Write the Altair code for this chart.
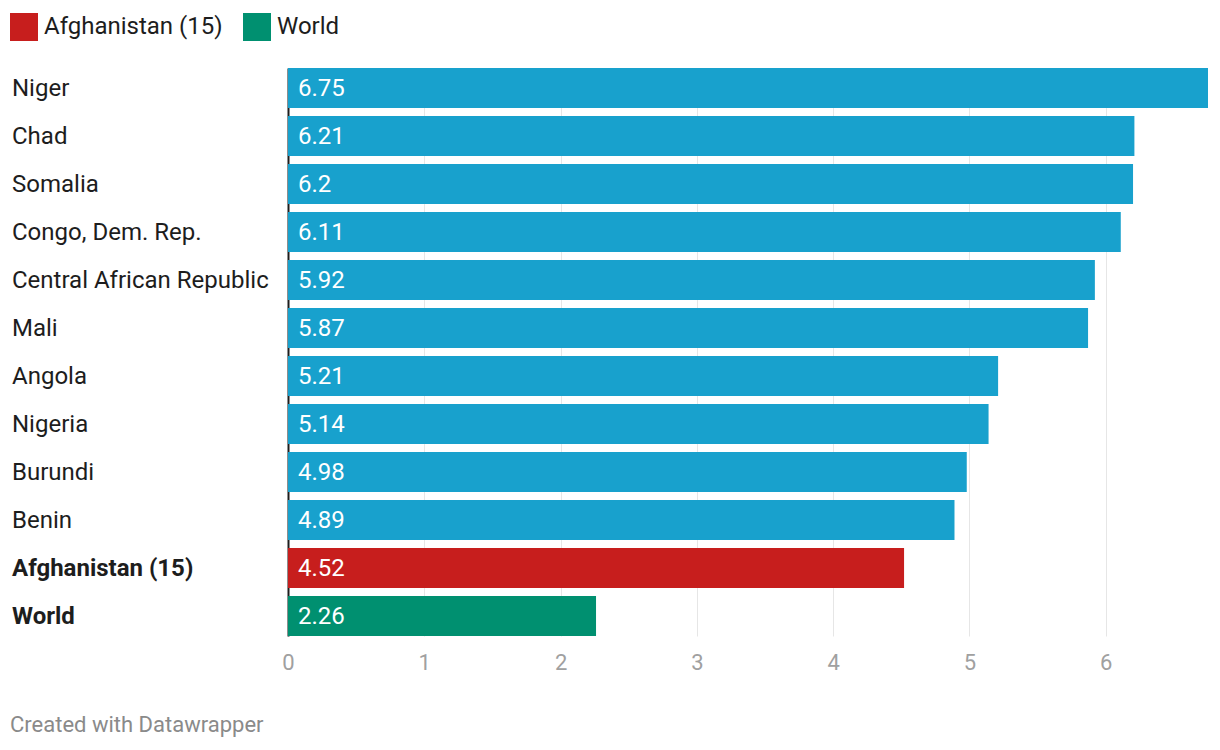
import altair as alt
import pandas as pd

countries = ["Niger", "Chad", "Somalia", "Congo, Dem. Rep.", "Central African Republic",
             "Mali", "Angola", "Nigeria", "Burundi", "Benin", "Afghanistan (15)", "World"]
values = [6.75, 6.21, 6.2, 6.11, 5.92, 5.87, 5.21, 5.14, 4.98, 4.89, 4.52, 2.26]
groups = ["Other"] * 10 + ["Afghanistan (15)", "World"]
bold = [False] * 10 + [True, True]
labels = ["6.75", "6.21", "6.2", "6.11", "5.92", "5.87", "5.21", "5.14", "4.98", "4.89", "4.52", "2.26"]

df = pd.DataFrame({"country": countries, "value": values, "group": groups,
                   "bold": bold, "label": labels})

FONT = "Roboto"

y_enc = alt.Y("country:N", sort=countries,
              scale=alt.Scale(paddingInner=1/6, paddingOuter=0),
              axis=alt.Axis(title=None, labels=False, ticks=False, grid=False,
                            domain=True, domainColor="#1d1d1d", domainWidth=2))

bars = alt.Chart(df).mark_bar().encode(
    y=y_enc,
    x=alt.X("value:Q", scale=alt.Scale(domain=[0, 6.75], nice=False, zero=True),
            axis=alt.Axis(title=None, values=[0, 1, 2, 3, 4, 5, 6], format="d",
                          grid=True, gridColor="#e6e6e6", gridWidth=1, ticks=False,
                          domain=False, labelFontSize=22, labelColor="#a0a0a0",
                          labelFont=FONT, labelPadding=16, labelFlush=False)),
    color=alt.Color("group:N",
                    scale=alt.Scale(domain=["Other", "Afghanistan (15)", "World"],
                                    range=["#18a1cd", "#c71e1d", "#009070"]),
                    legend=alt.Legend(title=None, values=["Afghanistan (15)", "World"],
                                      orient="none", legendX=-278, legendY=-55,
                                      direction="horizontal", symbolType="square",
                                      symbolSize=784, symbolStrokeWidth=0,
                                      symbolOpacity=1, labelFontSize=24,
                                      labelFont=FONT, labelColor="#1d1d1d",
                                      labelLimit=0,
                                      labelOffset=6, columnPadding=20, padding=0)),
)

value_text = alt.Chart(df).mark_text(align="left", baseline="middle", color="white",
                                     fontSize=24, font=FONT, dx=10, dy=1).encode(
    y=alt.Y("country:N", sort=countries),
    x=alt.datum(0),
    text="label:N",
)

name_normal = alt.Chart(df).transform_filter("!datum.bold").mark_text(
    align="left", baseline="middle", color="#1d1d1d", fontSize=24, font=FONT,
    fontWeight="normal", dy=1).encode(
    y=alt.Y("country:N", sort=countries),
    x=alt.value(-276),
    text="country:N",
)

name_bold = alt.Chart(df).transform_filter("datum.bold").mark_text(
    align="left", baseline="middle", color="#1d1d1d", fontSize=24, font=FONT,
    fontWeight="bold", dy=1).encode(
    y=alt.Y("country:N", sort=countries),
    x=alt.value(-276),
    text="country:N",
)

chart = alt.layer(bars, value_text, name_normal, name_bold).properties(
    width=920, height=568,
    padding={"left": 280, "top": 60, "right": 4, "bottom": 112},
    autosize=alt.AutoSizeParams(type="none"),
    title=alt.TitleParams(text="Created with Datawrapper", orient="bottom", anchor="start",
                          frame="group", dx=-278, fontSize=22, color="#8a8a8a", font=FONT,
                          fontWeight="normal", offset=42),
).configure_view(stroke=None)

chart.save("out.html", embed_options={"renderer": "svg", "actions": False})
